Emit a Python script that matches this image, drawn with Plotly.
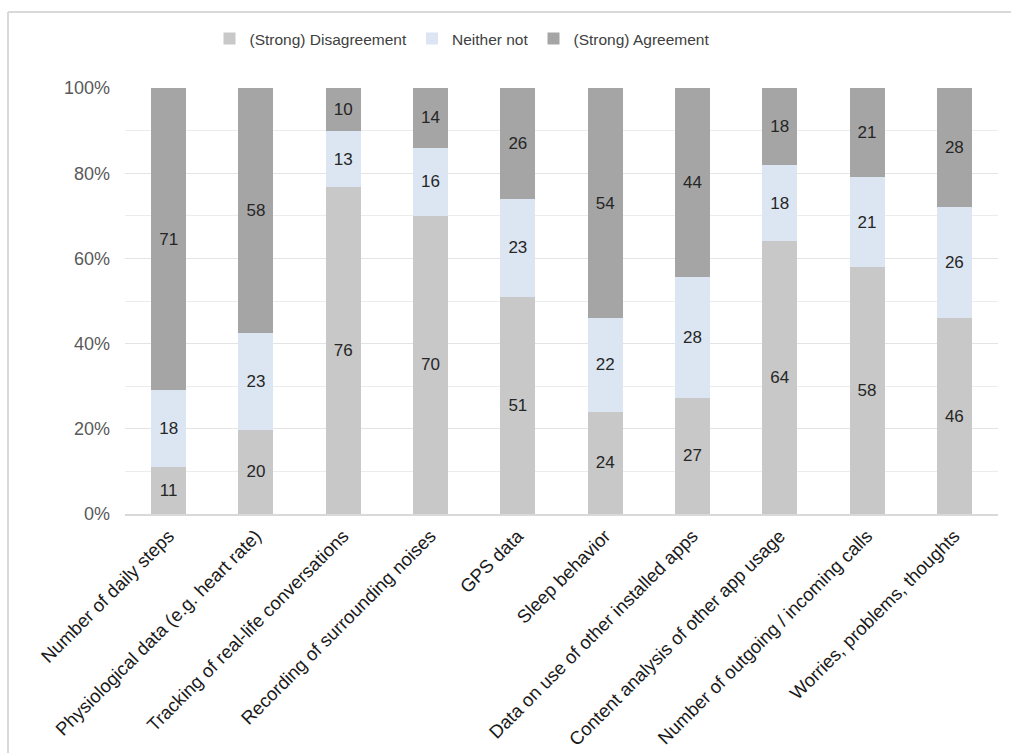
import plotly.graph_objects as go

categories = [
    "Number of daily steps",
    "Physiological data (e.g. heart rate)",
    "Tracking of real-life conversations",
    "Recording of surrounding noises",
    "GPS data",
    "Sleep behavior",
    "Data on use of other installed apps",
    "Content analysis of other app usage",
    "Number of outgoing / incoming calls",
    "Worries, problems, thoughts",
]
disagreement = [11, 20, 76, 70, 51, 24, 27, 64, 58, 46]
neither = [18, 23, 13, 16, 23, 22, 28, 18, 21, 26]
agreement = [71, 58, 10, 14, 26, 54, 44, 18, 21, 28]

series = [
    ("(Strong) Disagreement", disagreement, "#c8c8c8"),
    ("Neither not", neither, "#dce6f2"),
    ("(Strong) Agreement", agreement, "#a5a5a5"),
]

fig = go.Figure()
for name, vals, color in series:
    fig.add_trace(go.Bar(
        x=categories, y=vals, name=name,
        marker=dict(color=color, line=dict(width=0)),
        text=[str(v) for v in vals],
        textposition="inside", insidetextanchor="middle", textangle=0,
        textfont=dict(family="Liberation Sans, Arial", size=17, color="#262626"),
        hoverinfo="skip",
    ))

W, H = 1011, 753
ml, mr, mt, mb = 125, 13, 88, 239
pw, ph = W - ml - mr, H - mt - mb

def px_x(p):
    return (p - ml) / pw

def px_y(p):
    return (H - mb - p) / ph

border = "#d9d9d9"
shapes = [
    dict(type="line", xref="paper", yref="paper",
         x0=px_x(8), y0=px_y(12), x1=px_x(W + 5), y1=px_y(12),
         line=dict(color=border, width=2)),
    dict(type="line", xref="paper", yref="paper",
         x0=px_x(8), y0=px_y(12), x1=px_x(8), y1=px_y(H + 5),
         line=dict(color=border, width=2)),
]

fig.update_layout(
    width=W, height=H,
    margin=dict(l=ml, r=mr, t=mt, b=mb),
    barmode="stack", barnorm="percent", bargap=0.6,
    plot_bgcolor="white", paper_bgcolor="white",
    font=dict(family="Liberation Sans, Arial", color="#595959"),
    showlegend=True,
    legend=dict(
        orientation="h", x=px_x(462), xanchor="center",
        y=px_y(39), yanchor="middle",
        font=dict(size=15.5, color="#404040"),
        itemwidth=30, traceorder="normal",
        tracegroupgap=0,
        bgcolor="rgba(0,0,0,0)",
    ),
    shapes=shapes,
)
fig.update_yaxes(
    range=[0, 100], dtick=20, ticksuffix="%",
    tickfont=dict(size=18, color="#595959"),
    showgrid=True, gridcolor="#e4e4e4", gridwidth=1,
    minor=dict(dtick=10, showgrid=True, gridcolor="#ececec", gridwidth=1),
    zeroline=False, showline=False, ticks="", ticklabelstandoff=14,
    automargin=False,
)
fig.update_xaxes(
    tickangle=-45, tickfont=dict(size=18.5, color="#1a1a1a"),
    showline=True, linecolor="#d9d9d9", linewidth=2,
    showgrid=False, ticks="", ticklabelstandoff=2,
    automargin=False,
)

fig.write_html("out.html")
